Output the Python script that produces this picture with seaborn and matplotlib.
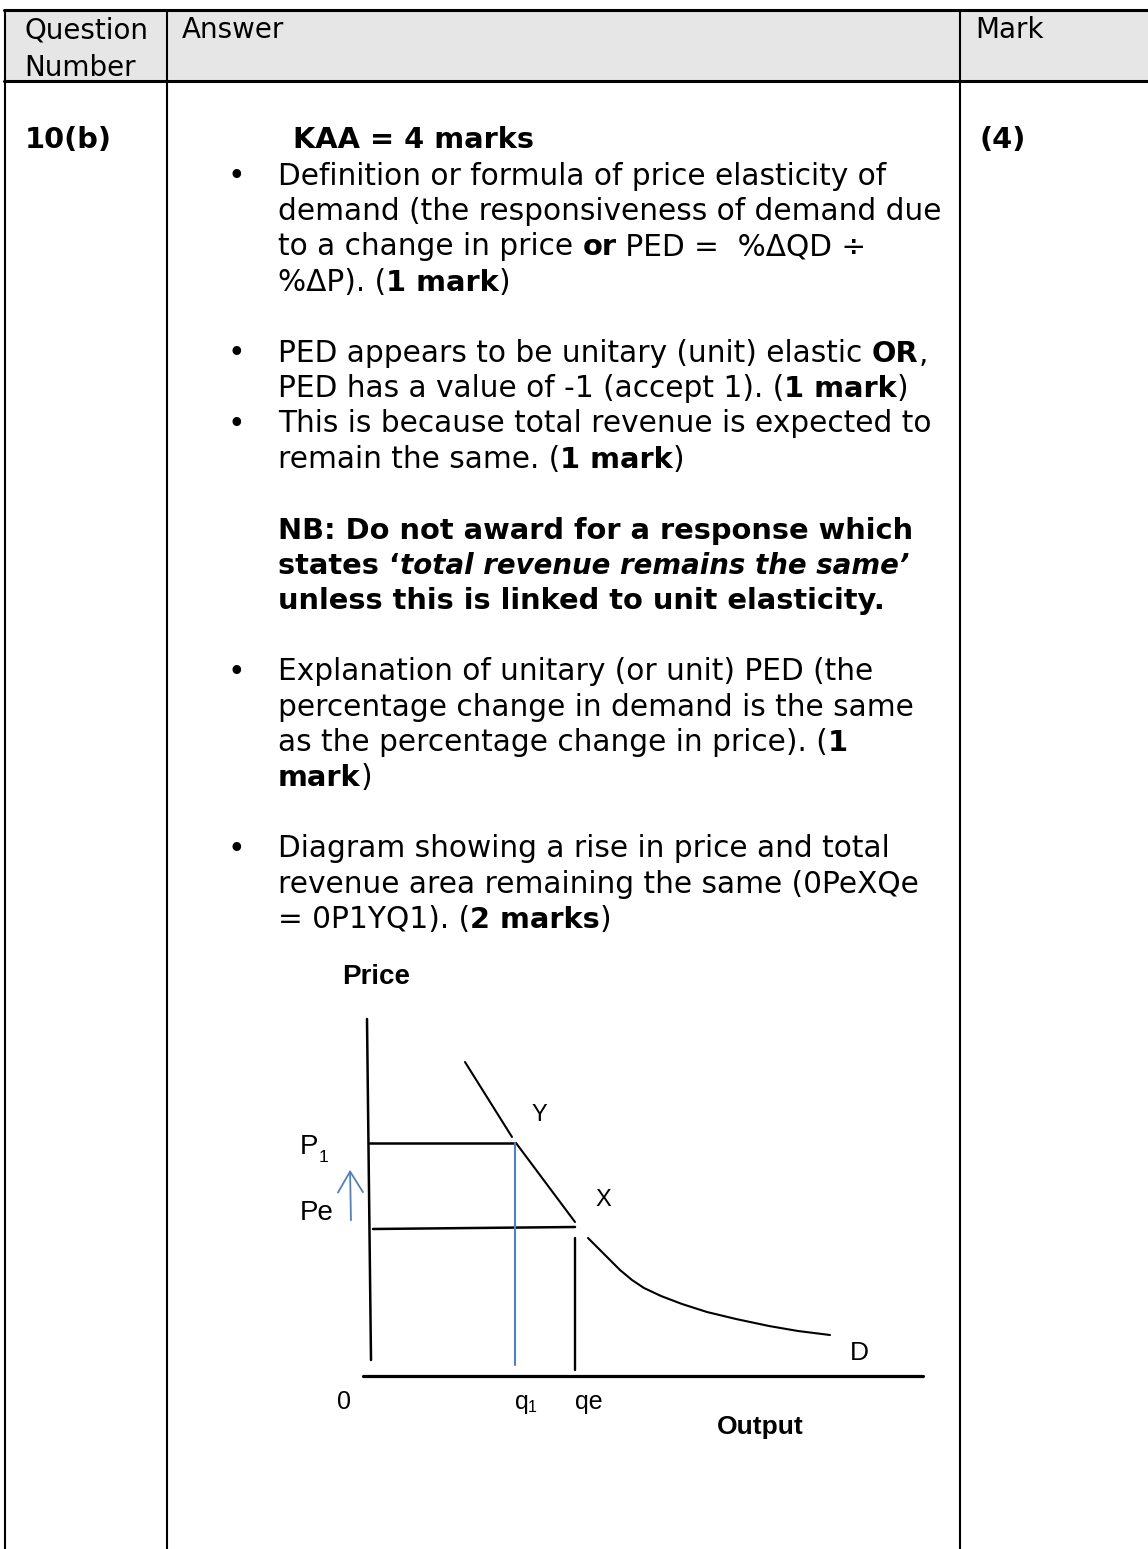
import matplotlib
matplotlib.use("Agg")
import matplotlib.pyplot as plt
from matplotlib.patches import Rectangle
import seaborn as sns

# ---- diagram values (quantity, price) ----
demand_upper_q = [9.4, 14.1]
demand_upper_p = [31.4, 23.9]
demand_mid_q = [14.5, 20.4]
demand_mid_p = [23.3, 15.4]
demand_lower_q = [21.7, 23.2, 24.9, 26.1, 27.3, 29.0, 31.1, 33.6, 36.5, 39.8, 42.7, 45.9]
demand_lower_p = [13.8, 12.3, 10.6, 9.6, 8.8, 8.0, 7.2, 6.4, 5.7, 5.0, 4.5, 4.1]

q1, qe = 14.4, 20.4
p1, pe = 23.3, 14.7

yaxis_q = [-0.4, 0.0]
yaxis_p = [35.7, 1.6]
xaxis_q = [-0.8, 55.2]
xaxis_p = [0.0, 0.0]

# ---- table text ----
header_cols = ["Question\nNumber", "Answer", "Mark"]
question_no = "10(b)"
mark_total = "(4)"
kaa_line = "KAA = 4 marks"

# (line number, bullet?, [(text, style)])  style: n normal, b bold, bi bold italic
answer_lines = [
    (0, True, [("Definition or formula of price elasticity of", "n")]),
    (1, False, [("demand (the responsiveness of demand due", "n")]),
    (2, False, [("to a change in price ", "n"), ("or", "b"), (" PED =  %ΔQD ÷", "n")]),
    (3, False, [("%ΔP). (", "n"), ("1 mark", "b"), (")", "n")]),
    (5, True, [("PED appears to be unitary (unit) elastic ", "n"), ("OR", "b"), (",", "n")]),
    (6, False, [("PED has a value of -1 (accept 1). (", "n"), ("1 mark", "b"), (")", "n")]),
    (7, True, [("This is because total revenue is expected to", "n")]),
    (8, False, [("remain the same. (", "n"), ("1 mark", "b"), (")", "n")]),
    (10, False, [("NB: Do not award for a response which", "b")]),
    (11, False, [("states \u2018", "b"), ("total revenue remains the same\u2019", "bi")]),
    (12, False, [("unless this is linked to unit elasticity.", "b")]),
    (14, True, [("Explanation of unitary (or unit) PED (the", "n")]),
    (15, False, [("percentage change in demand is the same", "n")]),
    (16, False, [("as the percentage change in price). (", "n"), ("1", "b")]),
    (17, False, [("mark", "b"), (")", "n")]),
    (19, True, [("Diagram showing a rise in price and total", "n")]),
    (20, False, [("revenue area remaining the same (0PeXQe", "n")]),
    (21, False, [("= 0P1YQ1). (", "n"), ("2 marks", "b"), (")", "n")]),
]

sns.set_style("white")
plt.rcParams['font.family'] = ['DejaVu Sans']
plt.rcParams['text.color'] = 'black'

W, H = 1148, 1549
fig = plt.figure(figsize=(W / 100, H / 100), dpi=100)
page = fig.add_axes([0, 0, 1, 1])
page.set_xlim(0, W)
page.set_ylim(H, 0)
page.axis('off')
renderer = fig.canvas.get_renderer()

BODY = 21.3
SIZES = {'n': 21.3, 'b': 20.8, 'bi': 19.9}


def props(style):
    return dict(fontsize=SIZES[style], family='DejaVu Sans',
                fontweight='bold' if 'b' in style else 'normal',
                fontstyle='italic' if 'i' in style else 'normal')


def seg_width(s, style):
    t = page.text(0, 0, '|' + s + '|', **props(style))
    w = t.get_window_extent(renderer).width
    t.remove()
    t = page.text(0, 0, '||', **props(style))
    w -= t.get_window_extent(renderer).width
    t.remove()
    return w


def put(x, y, parts):
    for txt, st in parts:
        page.text(x, y, txt, va='baseline', ha='left', **props(st))
        x += seg_width(txt, st)


# table frame
page.add_patch(Rectangle((5, 10), W - 5, 71, facecolor='#e6e6e6', edgecolor='none'))
page.plot([4, W], [10, 10], color='black', lw=2.2)
page.plot([4, W], [81, 81], color='black', lw=2.2)
for xv in [5, 167, 960]:
    page.plot([xv, xv], [10, H], color='black', lw=1.5)

# header
page.text(24, 38, "Question", va='baseline', fontsize=20)
page.text(24, 76, "Number", va='baseline', fontsize=20)
page.text(182, 38, header_cols[1], va='baseline', fontsize=20)
page.text(975, 38, header_cols[2], va='baseline', fontsize=20)

# first row
page.text(25, 148, question_no, va='baseline', fontsize=SIZES['b'], fontweight='bold')
page.text(293, 148, kaa_line, va='baseline', fontsize=SIZES['b'], fontweight='bold')
page.text(980, 148, mark_total, va='baseline', fontsize=SIZES['b'], fontweight='bold')

LINE0, STEP = 184.5, 35.4
for n, bullet, parts in answer_lines:
    y = LINE0 + n * STEP
    if bullet:
        page.text(236, y - 8, "\u2022", ha='center', va='center', fontsize=BODY)
    put(278, y, parts)

# ---- diagram ----
dia = fig.add_axes([280 / W, 1 - 1460 / H, 660 / W, 510 / H])
dia.set_xlim(-9.1, 56.9)
dia.set_ylim(-8.4, 42.6)
dia.axis('off')
dia.patch.set_alpha(0)

for qs, ps in [(demand_upper_q, demand_upper_p), (demand_mid_q, demand_mid_p),
               (demand_lower_q, demand_lower_p)]:
    sns.lineplot(x=qs, y=ps, ax=dia, color='black', lw=1.5, sort=False, estimator=None)

dia.plot(yaxis_q, yaxis_p, color='black', lw=1.8)
dia.plot(xaxis_q, xaxis_p, color='black', lw=2.3)
dia.plot([-0.25, q1], [p1, p1], color='black', lw=1.8)
dia.plot([0.2, qe], [pe, pe + 0.2], color='black', lw=1.8)
dia.plot([q1, q1], [p1, 1.1], color='#4f81bd', lw=1.5)
dia.plot([qe, qe], [13.8, 0.6], color='black', lw=1.7)
dia.annotate("", xy=(-2.1, 20.9), xytext=(-2.0, 15.3),
             arrowprops=dict(arrowstyle='->,head_length=0.5,head_width=0.3',
                             color='#4f81bd', lw=1.3, mutation_scale=30))

lab = dict(family='Liberation Sans', clip_on=False)
dia.text(0.5, 39.9, "Price", ha='center', va='center', fontsize=20, fontweight='bold', **lab)
dia.text(16.8, 26.1, "Y", ha='center', va='center', fontsize=17, **lab)
dia.text(23.2, 17.6, "X", ha='center', va='center', fontsize=17, **lab)
dia.text(-7.1, 22.9, "P", ha='left', va='center', fontsize=20, **lab)
dia.text(-5.2, 21.9, "1", ha='left', va='center', fontsize=12.5, **lab)
dia.text(-7.1, 16.3, "Pe", ha='left', va='center', fontsize=20, **lab)
dia.text(48.8, 2.3, "D", ha='center', va='center', fontsize=19, **lab)
dia.text(-2.7, -2.6, "0", ha='center', va='center', fontsize=18, **lab)
dia.text(14.4, -2.6, "q", ha='left', va='center', fontsize=18, **lab)
dia.text(15.7, -3.2, "1", ha='left', va='center', fontsize=11.5, **lab)
dia.text(20.4, -2.6, "qe", ha='left', va='center', fontsize=18, **lab)
dia.text(38.9, -5.1, "Output", ha='center', va='center', fontsize=19, fontweight='bold', **lab)

fig.savefig("out.png", dpi=100)
